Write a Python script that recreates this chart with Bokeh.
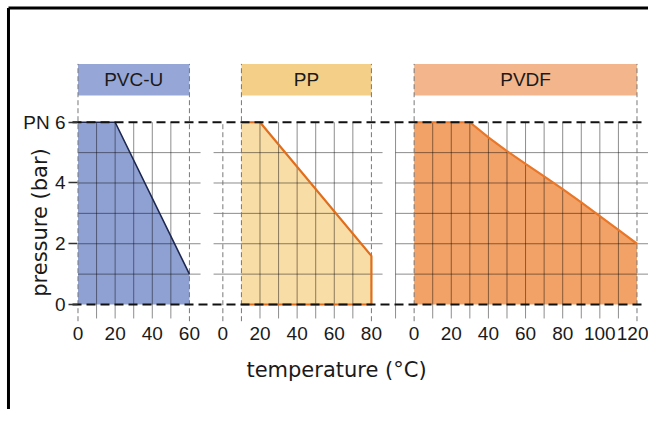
import math
from bokeh.plotting import figure
from bokeh.models import Range1d, FixedTicker, LinearAxis
from bokeh.core.properties import value
from bokeh.embed import file_html
from bokeh.resources import INLINE

# ---- data ----
materials = ["PVC-U", "PP", "PVDF"]
pvcu_temp = [0, 20, 60]
pvcu_pres = [6, 6, 1]
pp_temp = [10, 20, 80]
pp_pres = [6, 6, 1.6]
pvdf_temp = [0, 30, 40, 50, 60, 70, 80, 90, 100, 110, 120]
pvdf_pres = [6, 6, 5.5, 5.05, 4.63, 4.22, 3.8, 3.36, 2.91, 2.46, 2.0]
pvcu_ticks = [0, 20, 40, 60]
pp_ticks = [0, 20, 40, 60, 80]
pvdf_ticks = [0, 20, 40, 60, 80, 100, 120]
pressure_ticks = [0, 2, 4, 6]
pressure_labels = ["0", "2", "4", "PN 6"]
x_title = "temperature (°C)"
y_title = "pressure (bar)"

# ---- layout / style ----
SANS = "Liberation Sans"
TITLE_FONT = "DejaVu Sans"
offsets = [0, 78, 181]
temps = [pvcu_temp, pp_temp, pvdf_temp]
press = [pvcu_pres, pp_pres, pvdf_pres]
ticks = [pvcu_ticks, pp_ticks, pvdf_ticks]
head_span = [(0, 60), (10, 80), (0, 120)]
fill_colors = ["#8fa0d2", "#f9dda7", "#f2a266"]
head_colors = ["#96a7d7", "#f4cf88", "#f3b68c"]
edge_colors = ["#1e2850", "#e06e1c", "#e8772a"]
hgrid_span = [(0, 66), (-5, 86), (-10, 127)]
vgrid_pos = [[10, 20, 30, 40, 50], [20, 30, 40, 50, 60, 70], [-10, 10, 20, 30, 40, 50, 60, 70, 80, 90, 100, 110]]
extra_dashed = [[], [0], []]

X0, X1 = -41.73, 307.2
Y0, Y1 = -3.456, 10.007

p = figure(width=648, height=409, x_range=Range1d(X0, X1), y_range=Range1d(Y0, Y1),
           output_backend="svg", toolbar_location=None,
           x_axis_location=None, y_axis_location=None,
           min_border=0, min_border_left=0, min_border_right=0, min_border_top=0, min_border_bottom=0)
p.outline_line_color = None
p.background_fill_color = "white"
p.border_fill_color = "white"
p.xgrid.visible = False
p.ygrid.visible = False
p.styles = {"overflow": "hidden"}

# picture frame (left and top edges)
p.segment(x0=[-37.43, -37.43], x1=[-37.43, X1], y0=[Y0, 9.76], y1=[9.76, 9.76],
          line_color="black", line_width=3)

head_top = 7.92
head_bot = 6.88
ydash_bot = -0.55
ygrid_bot = -0.46

for i in range(3):
    off = offsets[i]
    t = temps[i]
    pr = press[i]
    xs = [off + v for v in t] + [off + t[-1], off + t[0]]
    ys = list(pr) + [0, 0]
    p.patch(xs, ys, fill_color=fill_colors[i], line_color=None)
    a, b = head_span[i]
    p.quad(left=[off + a], right=[off + b], bottom=[head_bot], top=[head_top],
           fill_color=head_colors[i], line_color=None)
    p.text(x=[off + (a + b) / 2], y=[7.41], text=[materials[i]], text_font=value(SANS),
           text_font_size="19px", text_align="center", text_baseline="middle", text_color="#1a1a1a")

for i in range(3):
    off = offsets[i]
    h0, h1 = hgrid_span[i]
    ylev = [1, 2, 3, 4, 5]
    p.segment(x0=[off + h0] * 5, x1=[off + h1] * 5, y0=ylev, y1=ylev,
              line_color="black", line_alpha=0.45, line_width=1)
    vg = vgrid_pos[i]
    p.segment(x0=[off + v for v in vg], x1=[off + v for v in vg], y0=[6] * len(vg), y1=[ygrid_bot] * len(vg),
              line_color="black", line_alpha=0.45, line_width=1)
    a, b = head_span[i]
    p.segment(x0=[off + a, off + b], x1=[off + a, off + b], y0=[ydash_bot] * 2, y1=[head_top] * 2,
              line_color="#777777", line_width=1, line_dash="5 3")
    for e in extra_dashed[i]:
        p.segment(x0=[off + e], x1=[off + e], y0=[ydash_bot], y1=[6],
                  line_color="#777777", line_width=1, line_dash="5 3")

# outlines
p.line([offsets[0] + v for v in pvcu_temp], pvcu_pres, line_color=edge_colors[0], line_width=1.6)
pp_ox = [offsets[1] + v for v in pp_temp] + [offsets[1] + pp_temp[-1], offsets[1] + pp_temp[0]]
p.line(pp_ox, list(pp_pres) + [0, 0], line_color=edge_colors[1], line_width=2.2)
p.line([offsets[2] + v for v in pvdf_temp], pvdf_pres, line_color=edge_colors[2], line_width=2.2)

# black dashed limits at 0 and PN 6
p.segment(x0=[-2.96, -2.96], x1=[305.6, 305.6], y0=[0, 6], y1=[0, 6],
          line_color="#111111", line_width=2.2, line_dash="9 5")

# axes (fixed inside the canvas)
xt = []
xl = {}
for i in range(3):
    for v in ticks[i]:
        xt.append(offsets[i] + v)
        xl[offsets[i] + v] = str(v)
xaxis = LinearAxis(fixed_location=-0.59, ticker=FixedTicker(ticks=xt), major_label_overrides=xl)
xaxis.axis_line_color = None
xaxis.major_tick_line_color = None
xaxis.minor_tick_line_color = None
xaxis.major_tick_in = 0
xaxis.major_tick_out = 0
xaxis.major_label_standoff = 5
xaxis.major_label_text_font = SANS
xaxis.major_label_text_font_size = "19px"
xaxis.major_label_text_color = "#1a1a1a"
p.add_layout(xaxis, "below")

yaxis = LinearAxis(fixed_location=-2.96, ticker=FixedTicker(ticks=pressure_ticks),
                   major_label_overrides={k: v for k, v in zip(pressure_ticks, pressure_labels)})
yaxis.axis_line_color = None
yaxis.minor_tick_line_color = None
yaxis.major_tick_line_color = "#333333"
yaxis.major_tick_line_width = 1.5
yaxis.major_tick_out = 4
yaxis.major_tick_in = 5
yaxis.major_label_standoff = 3
yaxis.major_label_text_font = SANS
yaxis.major_label_text_font_size = "19px"
yaxis.major_label_text_color = "#1a1a1a"
p.add_layout(yaxis, "left")

# axis titles
p.text(x=[139.2], y=[-2.17], text=[x_title], text_font=value(TITLE_FONT), text_font_size="21px",
       text_align="center", text_baseline="middle", text_color="#1a1a1a")
p.text(x=[-20.7], y=[2.70], text=[y_title], angle=math.pi / 2, text_font=value(TITLE_FONT),
       text_font_size="21px", text_align="center", text_baseline="middle", text_color="#1a1a1a")

open("out.html", "w").write(file_html(p, INLINE))
